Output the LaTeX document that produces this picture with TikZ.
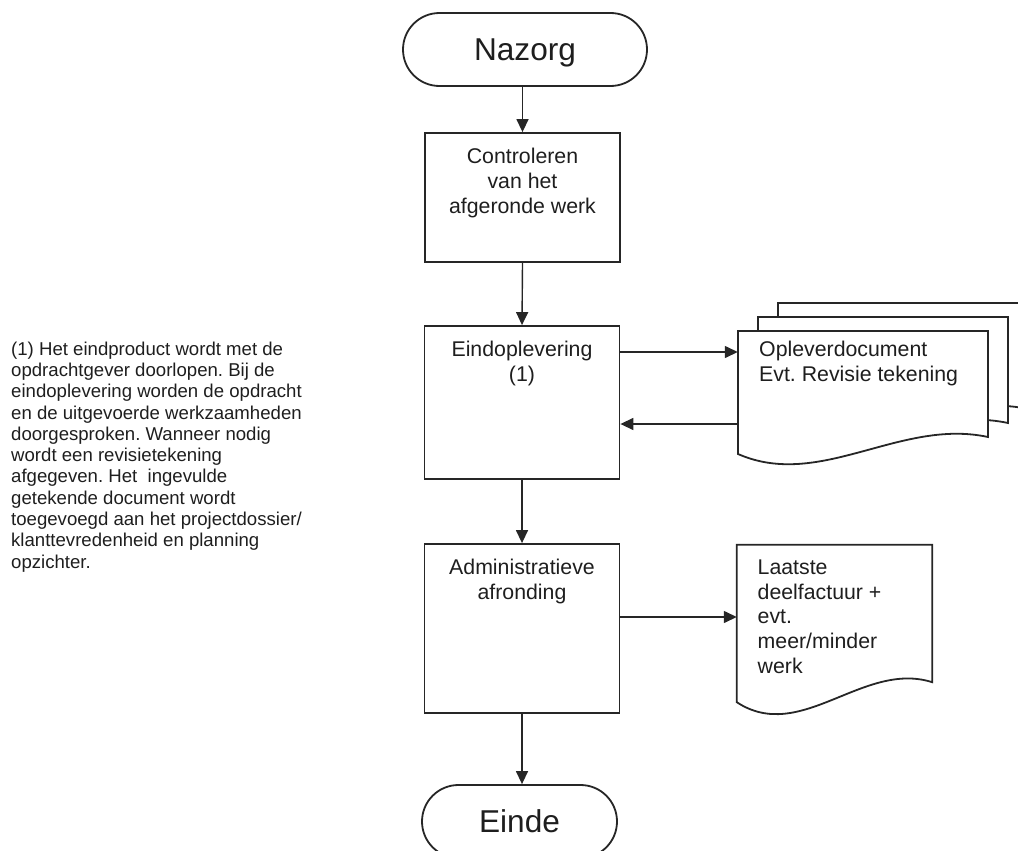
\documentclass[tikz,border=0pt]{standalone}
\usepackage{fontspec}
\setmainfont{Liberation Sans}
\usetikzlibrary{shapes.misc, arrows.meta, calc}
\definecolor{inkline}{HTML}{262626}
\definecolor{inktext}{HTML}{1E1E1E}
\tikzstyle{terminal}=[rounded rectangle, draw=inkline, line width=1.8bp, minimum height=73bp, inner sep=0pt, text depth=0pt, text=inktext, font=\fontsize{31.6bp}{36bp}\selectfont]
\tikzstyle{procbox}=[rectangle, draw=inkline, line width=1.8bp, minimum width=195bp]
\tikzstyle{boxtext}=[align=center, inner sep=0pt, text=inktext, font=\fontsize{21.3bp}{24.8bp}\selectfont]
\tikzstyle{doctext}=[align=left, inner sep=0pt, text=inktext, font=\fontsize{21.3bp}{24.8bp}\selectfont]
\tikzstyle{docnode}=[rectangle, inner sep=0pt]
\tikzstyle{docline}=[draw=inkline, line width=1.8bp]
\tikzstyle{flow}=[draw=inkline, line width=1.4bp, -{Triangle[length=13bp, width=12bp]}]
\tikzstyle{notetext}=[align=left, inner sep=0pt, text=inktext, font=\fontsize{18.6bp}{21.3bp}\selectfont]

\begin{document}
\frenchspacing
\begin{tikzpicture}[x=1bp, y=-1bp]
				\useasboundingbox (0,0) rectangle (1018,851);

				% Main column of the aftercare steps
				\node[terminal, minimum width=244bp] (nazorg) at (525,49.5) {Nazorg};
				\node[procbox, minimum height=129bp, label={[boxtext, anchor=north, yshift=-16bp]north:Controleren\\van het\\afgeronde werk}] (ctrl) at (522.5,197.5) {};
				\node[procbox, minimum height=153bp, label={[boxtext, anchor=north, yshift=-15.5bp]north:Eindoplevering\\(1)}] (eind) at (522,402.5) {};
				\node[procbox, minimum height=169bp, label={[boxtext, anchor=north, yshift=-15.5bp]north:Administratieve\\afronding}] (admin) at (522,628.5) {};
				\node[terminal, minimum width=195bp] (einde) at (519.5,821.5) {Einde};

				% Stack of documents
				\foreach \dx/\dy in {40/-28, 20/-14, 0/0}{
					\draw[docline, fill=white, shift={(\dx,\dy)}] (738,331) -- (988,331) -- (988,437) .. controls (900,418) and (820,490) .. (738,454) -- cycle;
				}
				\node[docnode, minimum width=250bp, minimum height=106bp, label={[doctext, anchor=north west, xshift=-104bp, yshift=-10.5bp]north:Opleverdocument\\Evt. Revisie tekening}] (opl) at (863,384) {};

				% Invoice document
				\node[docnode, minimum width=195bp, minimum height=137bp, label={[doctext, anchor=north west, xshift=-77bp, yshift=-14.7bp]north:Laatste\\deelfactuur +\\evt.\\meer/minder\\werk}] (laat) at (834.5,613.5) {};
				\draw[docline] (laat.north west) -- (laat.north east) -- (laat.south east) .. controls ($(laat.south east)+(-69,-22)$) and ($(laat.south west)+(64,62)$) .. ($(laat.south west)+(0,20)$) -- cycle;

				% Note on the left
				\node[notetext, anchor=north west] (note) at (11,341.5) {(1) Het eindproduct wordt met de\\opdrachtgever doorlopen. Bij de\\eindoplevering worden de opdracht\\en de uitgevoerde werkzaamheden\\doorgesproken. Wanneer nodig\\wordt een revisietekening\\afgegeven. Het~ ingevulde\\getekende document wordt\\toegevoegd aan het projectdossier/\\klanttevredenheid en planning\\opzichter.};

				% Connectors
				\coordinate (oplin) at (0,352);
				\coordinate (oplout) at (0,424);
				\coordinate (laatin) at (0,617);
				\draw[flow] (ctrl.north |- nazorg.south) -- (ctrl.north);
				\draw[flow] (ctrl.south) -- (eind.north);
				\draw[flow] (eind.south) -- (admin.north);
				\draw[flow] (admin.south) -- (admin.south |- einde.north);
				\draw[flow] (eind.east |- oplin) -- (opl.west |- oplin);
				\draw[flow] (opl.west |- oplout) -- (eind.east |- oplout);
				\draw[flow] (admin.east |- laatin) -- (laat.west |- laatin);
			\end{tikzpicture}
\end{document}
